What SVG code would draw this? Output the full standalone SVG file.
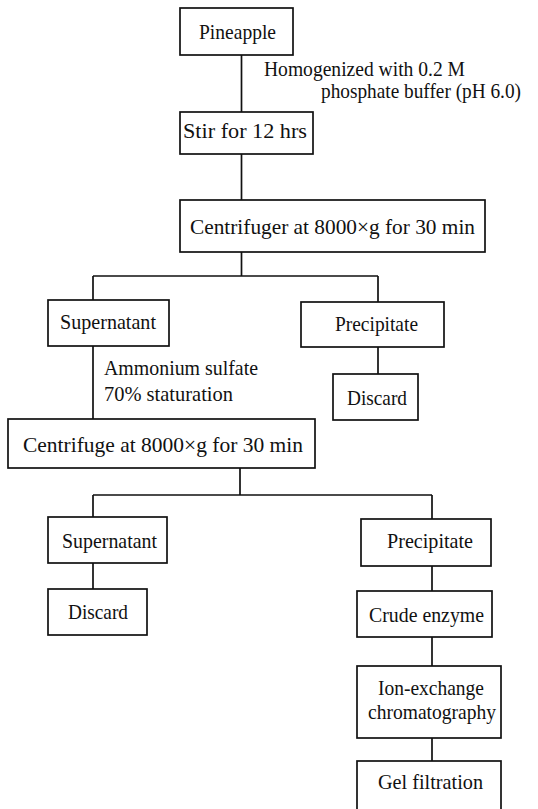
<svg xmlns="http://www.w3.org/2000/svg" width="538" height="809" viewBox="0 0 538 809">
<style>
.box{fill:#fff;stroke:#111;stroke-width:1.7}
.ln{fill:none;stroke:#111;stroke-width:1.7}
.t{font-family:'Liberation Serif','Times New Roman',Times,serif;font-size:21px;fill:#111}
</style>
<rect width="538" height="809" fill="#fff"/>
<g id="connectors">
<path class="ln" d="M241.5 55V112M241.5 154V200M241.5 252V276M93 276H378M93 276V300M378 276V302M378 347V374M93 346V419M240 468V495M93 495H432M93 495V517M432 495V519M93 563V589M432 566V591M432 637V666M432 738V761"/>
</g>
<g class="t">
<g id="label-homogenized">
<text x="264" y="76" textLength="201" lengthAdjust="spacingAndGlyphs">Homogenized with 0.2 M</text>
<text x="321" y="98" textLength="200" lengthAdjust="spacingAndGlyphs">phosphate buffer (pH 6.0)</text>
</g>
<g id="label-ammonium">
<text x="104" y="375" textLength="154" lengthAdjust="spacingAndGlyphs">Ammonium sulfate</text>
<text x="104" y="401" textLength="129" lengthAdjust="spacingAndGlyphs">70% staturation</text>
</g>
</g>
<g id="pineapple">
<rect class="box" x="180" y="8" width="113" height="47"/>
<text class="t" x="199" y="39" textLength="77" lengthAdjust="spacingAndGlyphs">Pineapple</text>
</g>
<g id="stir">
<rect class="box" x="180" y="112" width="133" height="42"/>
<text class="t" x="183" y="138" textLength="124" lengthAdjust="spacingAndGlyphs">Stir for 12 hrs</text>
</g>
<g id="centrifuger">
<rect class="box" x="180" y="200" width="305" height="52"/>
<text class="t" x="190" y="234" textLength="285" lengthAdjust="spacingAndGlyphs">Centrifuger at 8000×g for 30 min</text>
</g>
<g id="supernatant1">
<rect class="box" x="48" y="300" width="121" height="46"/>
<text class="t" x="60" y="329" textLength="96" lengthAdjust="spacingAndGlyphs">Supernatant</text>
</g>
<g id="precipitate1">
<rect class="box" x="301" y="302" width="143" height="45"/>
<text class="t" x="335" y="331" textLength="83" lengthAdjust="spacingAndGlyphs">Precipitate</text>
</g>
<g id="discard1">
<rect class="box" x="333" y="374" width="85" height="46"/>
<text class="t" x="347" y="405" textLength="60" lengthAdjust="spacingAndGlyphs">Discard</text>
</g>
<g id="centrifuge2">
<rect class="box" x="8" y="419" width="307" height="49"/>
<text class="t" x="23" y="452" textLength="280" lengthAdjust="spacingAndGlyphs">Centrifuge at 8000×g for 30 min</text>
</g>
<g id="supernatant2">
<rect class="box" x="48" y="517" width="119" height="46"/>
<text class="t" x="62" y="548" textLength="95" lengthAdjust="spacingAndGlyphs">Supernatant</text>
</g>
<g id="discard2">
<rect class="box" x="48" y="589" width="99" height="46"/>
<text class="t" x="68" y="619" textLength="60" lengthAdjust="spacingAndGlyphs">Discard</text>
</g>
<g id="precipitate2">
<rect class="box" x="361" y="519" width="130" height="47"/>
<text class="t" x="387" y="548" textLength="86" lengthAdjust="spacingAndGlyphs">Precipitate</text>
</g>
<g id="crude-enzyme">
<rect class="box" x="357" y="591" width="135" height="46"/>
<text class="t" x="369" y="622" textLength="115" lengthAdjust="spacingAndGlyphs">Crude enzyme</text>
</g>
<g id="ion-exchange">
<rect class="box" x="357" y="666" width="144" height="72"/>
<text class="t" x="378" y="695" textLength="106" lengthAdjust="spacingAndGlyphs">Ion-exchange</text>
<text class="t" x="368" y="719" textLength="128" lengthAdjust="spacingAndGlyphs">chromatography</text>
</g>
<g id="gel-filtration">
<rect class="box" x="357" y="761" width="144" height="60"/>
<text class="t" x="378" y="789" textLength="105" lengthAdjust="spacingAndGlyphs">Gel filtration</text>
</g>
</svg>
